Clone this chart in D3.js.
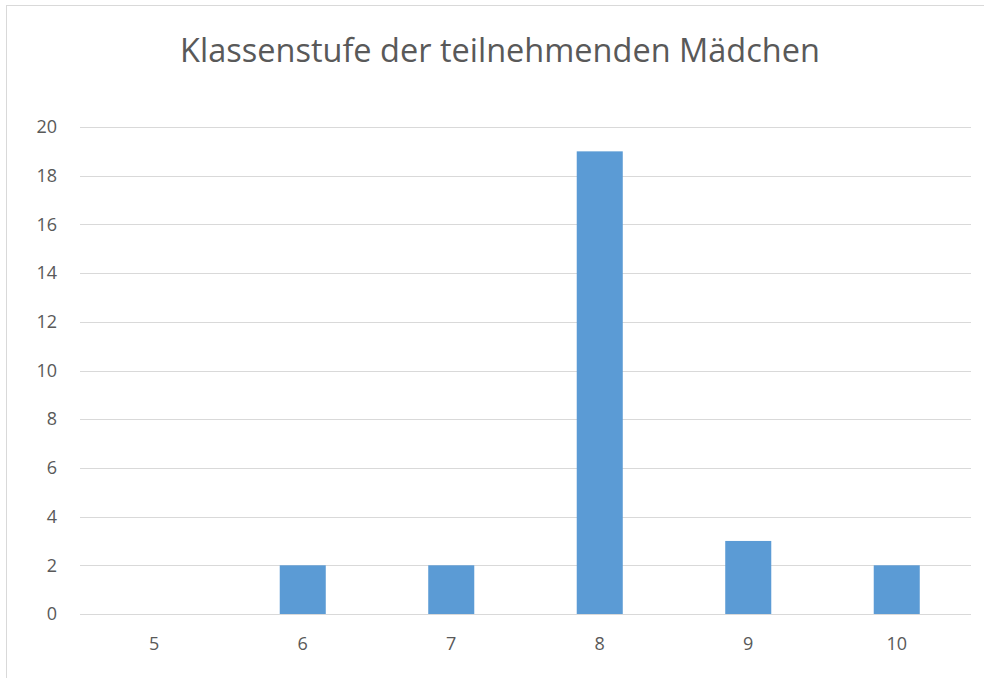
<!DOCTYPE html>
<html>
<head>
<meta charset="utf-8">
<script src="https://cdn.jsdelivr.net/npm/d3@7"></script>
<style>
  body { margin: 0; background: #fff; }
  svg { display: block; font-family: "Open Sans", "Liberation Sans", sans-serif; }
</style>
</head>
<body>
<svg id="chart" width="984" height="678"></svg>
<script>
// chart data
const title = "Klassenstufe der teilnehmenden Mädchen";
const categories = ["5", "6", "7", "8", "9", "10"];
const counts = [0, 2, 2, 19, 3, 2];
const yTicks = [0, 2, 4, 6, 8, 10, 12, 14, 16, 18, 20];

const svg = d3.select("#chart");
const margin = { left: 80, right: 13, top: 127, bottom: 64 };
const width = 984, height = 678;

// outer frame of the chart area
svg.append("rect")
    .attr("x", 6.5).attr("y", 5.5)
    .attr("width", 1000).attr("height", 700)
    .attr("fill", "#fff")
    .attr("stroke", "#d9d9d9");

const x = d3.scaleBand()
    .domain(categories)
    .range([margin.left, width - margin.right])
    .paddingInner(0.69)
    .paddingOuter(0.345);

const y = d3.scaleLinear()
    .domain([0, 20])
    .range([height - margin.bottom, margin.top]);

// gridlines
svg.append("g")
    .selectAll("line")
    .data(yTicks)
    .join("line")
    .attr("x1", margin.left).attr("x2", width - margin.right)
    .attr("y1", d => Math.round(y(d)) + 0.5)
    .attr("y2", d => Math.round(y(d)) + 0.5)
    .attr("stroke", "#d9d9d9")
    .attr("stroke-width", 1);

// bars
svg.append("g")
    .selectAll("rect")
    .data(counts)
    .join("rect")
    .attr("x", (d, i) => x(categories[i]))
    .attr("width", x.bandwidth())
    .attr("y", d => y(d))
    .attr("height", d => y(0) - y(d))
    .attr("fill", "#5b9bd5");

// y axis labels
const yAxis = d3.axisLeft(y).tickValues(yTicks).tickSize(0).tickPadding(0);
svg.append("g")
    .attr("transform", `translate(${margin.left - 23},0)`)
    .call(yAxis)
    .call(g => g.select(".domain").remove())
    .call(g => g.selectAll("text")
        .attr("fill", "#595959")
        .attr("font-size", 18)
        .attr("font-family", "Open Sans, sans-serif"));

// x axis labels
const xAxis = d3.axisBottom(x).tickSize(0).tickPadding(0);
svg.append("g")
    .attr("transform", `translate(0,${y(0) + 23})`)
    .call(xAxis)
    .call(g => g.select(".domain").remove())
    .call(g => g.selectAll("text")
        .attr("fill", "#595959")
        .attr("font-size", 18)
        .attr("font-family", "Open Sans, sans-serif"));

// title
svg.append("text")
    .attr("x", 500).attr("y", 62)
    .attr("text-anchor", "middle")
    .attr("fill", "#595959")
    .attr("font-size", 32.5)
    .text(title);
</script>
</body>
</html>
